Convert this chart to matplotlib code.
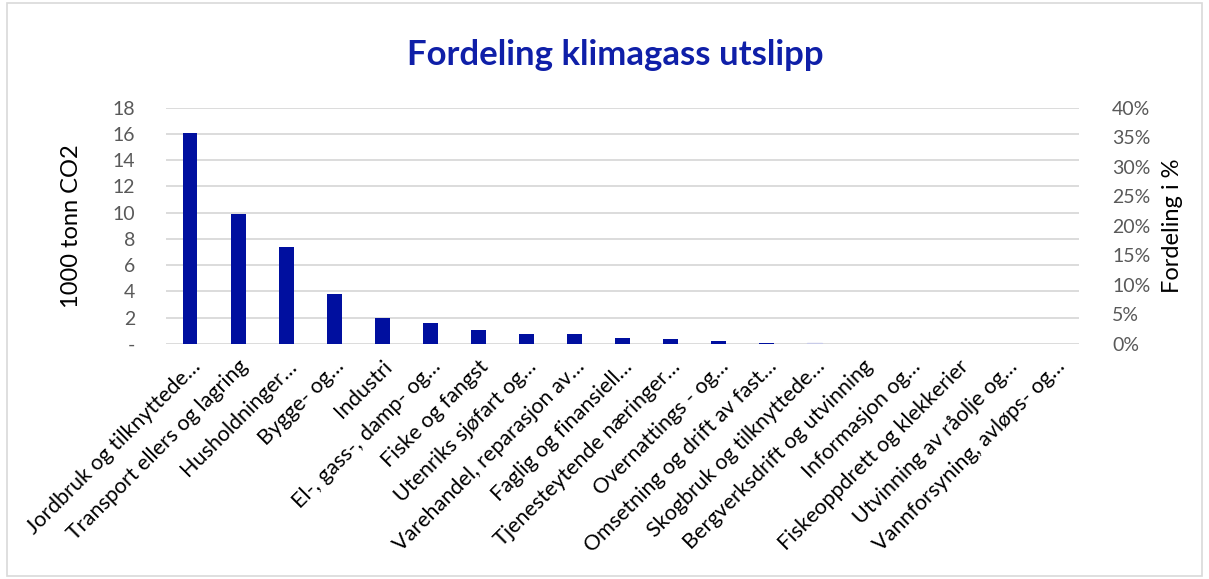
import numpy as np
import matplotlib
matplotlib.use("Agg")
import matplotlib.pyplot as plt
from matplotlib.ticker import FuncFormatter, PercentFormatter
from matplotlib.patches import Rectangle

plt.rcParams['font.family'] = ['Lato', 'DejaVu Sans']

categories = [
    "Jordbruk og tilknyttede…", "Transport ellers og lagring", "Husholdninger…",
    "Bygge- og…", "Industri", "El-, gass-, damp- og…", "Fiske og fangst",
    "Utenriks sjøfart og…", "Varehandel, reparasjon av…", "Faglig og finansiell…",
    "Tjenesteytende næringer…", "Overnattings - og…", "Omsetning og drift av fast…",
    "Skogbruk og tilknyttede…", "Bergverksdrift og utvinning", "Informasjon og…",
    "Fiskeoppdrett og klekkerier", "Utvinning av råolje og…", "Vannforsyning, avløps- og…",
]
utslipp = [16.05, 9.9, 7.4, 3.8, 2.0, 1.6, 1.07, 0.76, 0.73, 0.48, 0.38, 0.25,
           0.1, 0.05, 0, 0, 0, 0, 0]

blue = "#000F9F"
grey = "#595959"

fig = plt.figure(figsize=(12.09, 5.79), dpi=100)
fig.patches.append(Rectangle((0.006, 0.005), 0.988, 0.99, transform=fig.transFigure,
                             fill=False, edgecolor="#D9D9D9", lw=1.2))
ax = fig.add_axes([0.1373, 0.406, 0.755, 0.408])

x = np.arange(len(categories))
bars = ax.bar(x, utslipp, width=0.31, color=blue, zorder=3)
bars[13].set_color("#C8CBE8")
ax.set_xlim(-0.5, len(categories) - 0.5)
ax.set_ylim(0, 18)
ax.set_yticks(np.arange(0, 19, 2))
ax.yaxis.set_major_formatter(FuncFormatter(lambda v, p: "-" if v == 0 else f"{int(v)}"))
ax.grid(axis="y", color="#D9D9D9", lw=1.3, zorder=0)
for s in ax.spines.values():
    s.set_visible(False)
ax.tick_params(axis="both", length=0)
ax.tick_params(axis="y", labelsize=14, labelcolor=grey, pad=22)
ax.set_xticks(x)
ax.set_xticklabels(categories, rotation=45, ha="right", rotation_mode="anchor",
                   fontsize=15.5, color="black")
ax.tick_params(axis="x", pad=9)
ax.set_ylabel("1000 tonn CO2", fontsize=17, labelpad=22)

ax2 = ax.twinx()
ax2.set_ylim(0, 0.4)
ax2.set_yticks(np.arange(0, 0.41, 0.05))
ax2.yaxis.set_major_formatter(PercentFormatter(1.0, decimals=0))
for s in ax2.spines.values():
    s.set_visible(False)
ax2.tick_params(axis="y", length=0, labelsize=14, labelcolor=grey, pad=24)
ax2.set_ylabel("Fordeling i %", fontsize=17, labelpad=8)

fig.text(0.509, 0.905, "Fordeling klimagass utslipp", ha="center", va="center",
         fontsize=25, fontweight="bold", color="#0F1FA8")

fig.savefig("out.png", dpi=100)
